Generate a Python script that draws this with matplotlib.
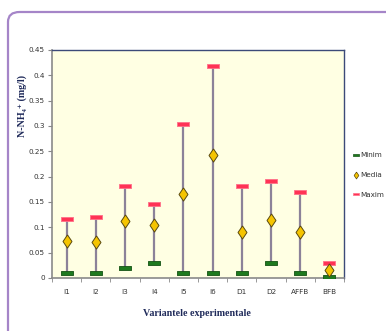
import matplotlib
matplotlib.use("Agg")
import matplotlib.pyplot as plt
from matplotlib.patches import FancyBboxPatch
from matplotlib.lines import Line2D

categories = ["I1", "I2", "I3", "I4", "I5", "I6", "D1", "D2", "AFFB", "BFB"]
minim = [0.010, 0.010, 0.020, 0.030, 0.010, 0.010, 0.010, 0.030, 0.010, 0.002]
media = [0.074, 0.071, 0.113, 0.105, 0.165, 0.243, 0.091, 0.115, 0.090, 0.015]
maxim = [0.116, 0.121, 0.181, 0.146, 0.303, 0.419, 0.181, 0.191, 0.170, 0.030]
yticks = [0, 0.05, 0.1, 0.15, 0.2, 0.25, 0.3, 0.35, 0.4, 0.45]
ytick_labels = ["0", "0.05", "0.1", "0.15", "0.2", "0.25", "0.3", "0.35", "0.4", "0.45"]

W, H = 386, 331
fig = plt.figure(figsize=(W / 100, H / 100), dpi=100)
fig.patch.set_facecolor("white")

# outer rounded frame
frame = FancyBboxPatch((8 / W, -0.2), 1.2, (H - 12) / H + 0.2 - 0.0,
                       boxstyle="round,pad=0,rounding_size=0.03",
                       transform=fig.transFigure, facecolor="none",
                       edgecolor="#a585c8", linewidth=1.6, zorder=0)
fig.patches.append(frame)

ax = fig.add_axes([52 / W, (H - 278) / H, 292 / W, 228 / H])
ax.set_facecolor("#ffffe3")
x = list(range(len(categories)))

ax.vlines(x, minim, maxim, color="#8c8299", lw=1.6, zorder=2)

bar_verts = [(-1, -0.33), (1, -0.33), (1, 0.33), (-1, 0.33), (-1, -0.33)]
dia_verts = [(0, 1), (0.68, 0), (0, -1), (-0.68, 0), (0, 1)]

ax.plot(x, minim, linestyle="none", marker=bar_verts, markersize=8.8,
        markerfacecolor="#1e7a1e", markeredgecolor="#145214", markeredgewidth=0.6, zorder=3)
ax.plot(x, maxim, linestyle="none", marker=bar_verts, markersize=8.8,
        markerfacecolor="#ff3355", markeredgecolor="#ff7088", markeredgewidth=0.6, zorder=3)
ax.plot(x, media, linestyle="none", marker=dia_verts, markersize=9.5,
        markerfacecolor="#f5c400", markeredgecolor="#5a4a10", markeredgewidth=0.7, zorder=4)

ax.set_xlim(-0.5, len(categories) - 0.5)
ax.set_ylim(0, 0.45)
ax.set_yticks(yticks)
ax.set_yticklabels(ytick_labels)
ax.set_xticks(x)
ax.set_xticklabels(categories)
ax.set_xticks([i + 0.5 for i in range(-1, len(categories))], minor=True)
ax.tick_params(axis="x", which="major", length=0, pad=8)
ax.tick_params(axis="x", which="minor", length=3, color="#888888", direction="out")
ax.tick_params(axis="y", length=3, color="#888888", direction="out", pad=2)
tick_font = dict(family=["Liberation Sans Narrow", "DejaVu Sans"], size=5.2)
for lab in ax.get_xticklabels() + ax.get_yticklabels():
    lab.set_fontfamily(tick_font["family"])
    lab.set_fontsize(tick_font["size"])
    lab.set_color("#333333")

for s in ["left", "bottom"]:
    ax.spines[s].set_color("#8a8a8a")
    ax.spines[s].set_linewidth(1.2)
for s in ["top", "right"]:
    ax.spines[s].set_color("#3c4a78")
    ax.spines[s].set_linewidth(1.0)

fig.text(22 / W, 1 - 106 / H, "N-NH₄⁺ (mg/l)", rotation=90, ha="center", va="center",
         family=["Liberation Serif", "DejaVu Serif"], fontweight="bold", fontsize=7.2,
         color="#1f2a5a")
fig.text(197 / W, 1 - 313 / H, "Variantele experimentale", ha="center", va="center",
         family=["Liberation Serif", "DejaVu Serif"], fontweight="bold", fontsize=7.2,
         color="#1f2a5a")

handles = [
    Line2D([], [], linestyle="none", marker=bar_verts, markersize=5,
           markerfacecolor="#1e7a1e", markeredgecolor="#145214", markeredgewidth=0.5),
    Line2D([], [], linestyle="none", marker=dia_verts, markersize=5,
           markerfacecolor="#f5c400", markeredgecolor="#5a4a10", markeredgewidth=0.5),
    Line2D([], [], linestyle="none", marker=bar_verts, markersize=5,
           markerfacecolor="#ff3355", markeredgecolor="#ff7088", markeredgewidth=0.5),
]
leg = fig.legend(handles, ["Minim", "Media", "Maxim"], loc="center left",
                 bbox_to_anchor=(349 / W, 1 - 175 / H), frameon=False,
                 prop={"family": ["Liberation Sans Narrow", "DejaVu Sans"], "size": 5.2},
                 labelspacing=1.9, handlelength=0.8, handletextpad=0.3, borderpad=0)
for t in leg.get_texts():
    t.set_color("#333333")

fig.savefig("out.png", dpi=100)
